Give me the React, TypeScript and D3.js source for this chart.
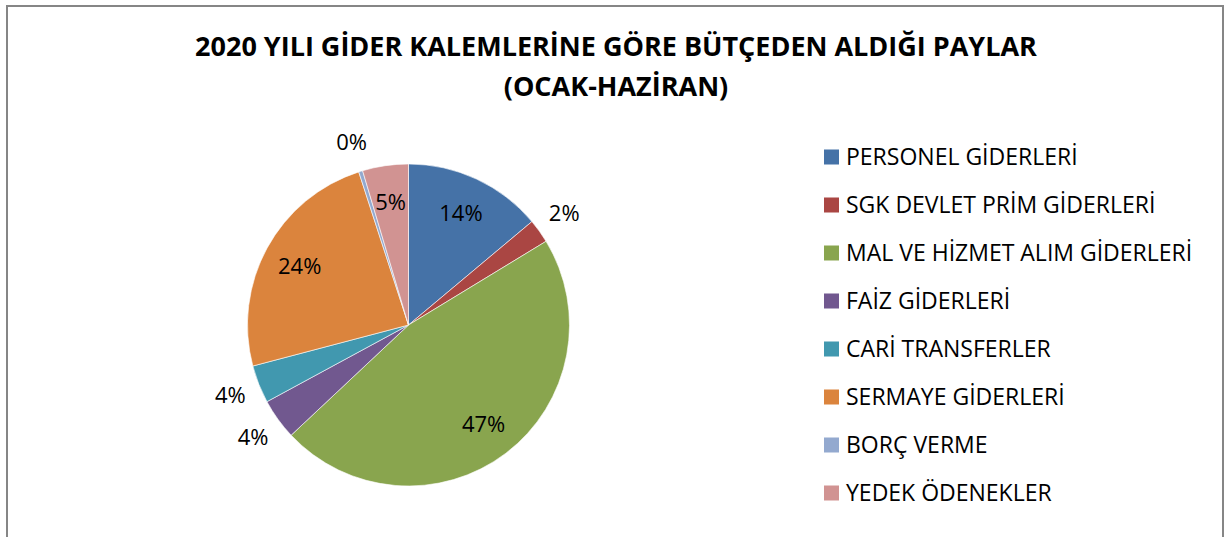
import React, { useEffect } from "react";
import * as d3 from "d3";

const categories = [
  "PERSONEL GİDERLERİ",
  "SGK DEVLET PRİM GİDERLERİ",
  "MAL VE HİZMET ALIM GİDERLERİ",
  "FAİZ GİDERLERİ",
  "CARİ TRANSFERLER",
  "SERMAYE GİDERLERİ",
  "BORÇ VERME",
  "YEDEK ÖDENEKLER",
];
const shares = [13.9, 2.4, 46.7, 4.1, 3.8, 24.1, 0.4, 4.6];
const colors = ["#4572A7", "#AA4643", "#89A54E", "#71588F", "#4198AF", "#DB843D", "#93A9CF", "#D19392"];
const titleLines = ["2020 YILI GİDER KALEMLERİNE GÖRE BÜTÇEDEN ALDIĞI PAYLAR", "(OCAK-HAZİRAN)"];

const W = 1228;
const H = 537;
const FONT = "'Open Sans', 'DejaVu Sans', sans-serif";

export default function App() {
  useEffect(() => {
    document.body.style.margin = "0";
  }, []);

  const cx = 408.5;
  const cy = 325;
  const R = 161;
  const total = d3.sum(shares);
  const pie = d3.pie<number>().sort(null).value((d) => d);
  const arcs = pie(shares);
  const arc = d3.arc<d3.PieArcDatum<number>>().innerRadius(0).outerRadius(R);
  const inArc = d3.arc<d3.PieArcDatum<number>>().innerRadius(R * 0.77).outerRadius(R * 0.77);
  const outArc = d3.arc<d3.PieArcDatum<number>>().innerRadius(R * 1.19).outerRadius(R * 1.19);

  const legendX = 824;
  const legendY0 = 157;
  const legendStep = 48;

  return (
    <svg width={W} height={H} style={{ display: "block", background: "#fff" }}>
      <rect x={7} y={6} width={1216} height={H} fill="#fff" stroke="#868686" strokeWidth={2} />
      {titleLines.map((t, i) => (
        <text
          key={i}
          x={616}
          y={56 + i * 40}
          textAnchor="middle"
          fontFamily={FONT}
          fontWeight="bold"
          fontSize={27}
          fill="#000"
        >
          {t}
        </text>
      ))}
      <g transform={`translate(${cx},${cy})`}>
        {arcs.map((a, i) => (
          <path key={i} d={arc(a) || ""} fill={colors[i]} stroke="#fff" strokeWidth={0.6} />
        ))}
        {arcs.map((a, i) => {
          const pct = (a.value / total) * 100;
          const outside = pct < 4.5;
          const [lx, ly] = (outside ? outArc : inArc).centroid(a);
          return (
            <text
              key={i}
              x={lx}
              y={ly}
              dy="0.36em"
              textAnchor="middle"
              fontFamily={FONT}
              fontSize={22}
              fill="#000"
            >
              {Math.round(pct)}%
            </text>
          );
        })}
      </g>
      {categories.map((c, i) => (
        <g key={i} transform={`translate(${legendX},${legendY0 + i * legendStep})`}>
          <rect x={0} y={-7.5} width={15} height={15} fill={colors[i]} />
          <text x={22} y={0} dy="0.36em" fontFamily={FONT} fontSize={23} fill="#000">
            {c}
          </text>
        </g>
      ))}
    </svg>
  );
}
